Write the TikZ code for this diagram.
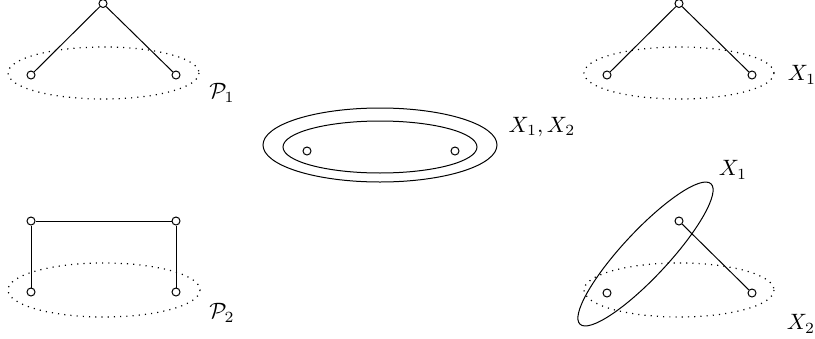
\documentclass[tikz,border=0pt]{standalone}
\begin{document}
\begin{tikzpicture}[x=0.45pt,y=-0.45pt,
  vtx/.style={circle,draw,inner sep=0pt,minimum size=3.6pt,line width=0.45pt},
  edge/.style={line width=0.45pt},
  dotell/.style={line width=0.55pt,dash pattern=on 0.5pt off 2.3pt},
  solell/.style={line width=0.45pt},
  lbl/.style={inner sep=0pt}]
\useasboundingbox (0,0) rectangle (815,339);

% top-left
\draw[dotell] (103.5,73) ellipse [x radius=95.5, y radius=26];
\node[vtx] (a0) at (103,3.5) {};
\node[vtx] (a1) at (31,75) {};
\node[vtx] (a2) at (176,75) {};
\draw[edge] (a0) -- (a1);
\draw[edge] (a0) -- (a2);
\node[lbl] (la) at (222,93) {$\mathcal{P}_1$};

% top-right
\draw[dotell] (679,73) ellipse [x radius=95, y radius=26];
\node[vtx] (b0) at (679,3.5) {};
\node[vtx] (b1) at (607,75) {};
\node[vtx] (b2) at (752,75) {};
\draw[edge] (b0) -- (b1);
\draw[edge] (b0) -- (b2);
\node[lbl] (lb) at (802,75) {$X_1$};

% middle
\draw[solell] (380,145) ellipse [x radius=117, y radius=37];
\draw[solell] (380,147) ellipse [x radius=97, y radius=26];
\node[vtx] (c1) at (307,151) {};
\node[vtx] (c2) at (455,151) {};
\node[lbl] (lc) at (542,127) {$X_1,X_2$};

% bottom-left
\draw[dotell] (104,290) ellipse [x radius=96, y radius=27];
\node[vtx] (d0) at (31,221) {};
\node[vtx] (d1) at (176,221) {};
\node[vtx] (d2) at (31,292) {};
\node[vtx] (d3) at (176,292) {};
\draw[edge] (d0) -- (d1);
\draw[edge] (d0) -- (d2);
\draw[edge] (d1) -- (d3);
\node[lbl] (ld) at (222,313) {$\mathcal{P}_2$};

% bottom-right
\draw[dotell] (679,290) ellipse [x radius=95, y radius=27];
\draw[solell, rotate around={47:(645.5,254)}] (645.5,254) ellipse [x radius=96, y radius=23];
\node[vtx] (e0) at (679,221) {};
\node[vtx] (e1) at (607,293) {};
\node[vtx] (e2) at (752,293) {};
\draw[edge] (e0) -- (e2);
\node[lbl] (le1) at (733,170) {$X_1$};
\node[lbl] (le2) at (801,324) {$X_2$};
\end{tikzpicture}
\end{document}
